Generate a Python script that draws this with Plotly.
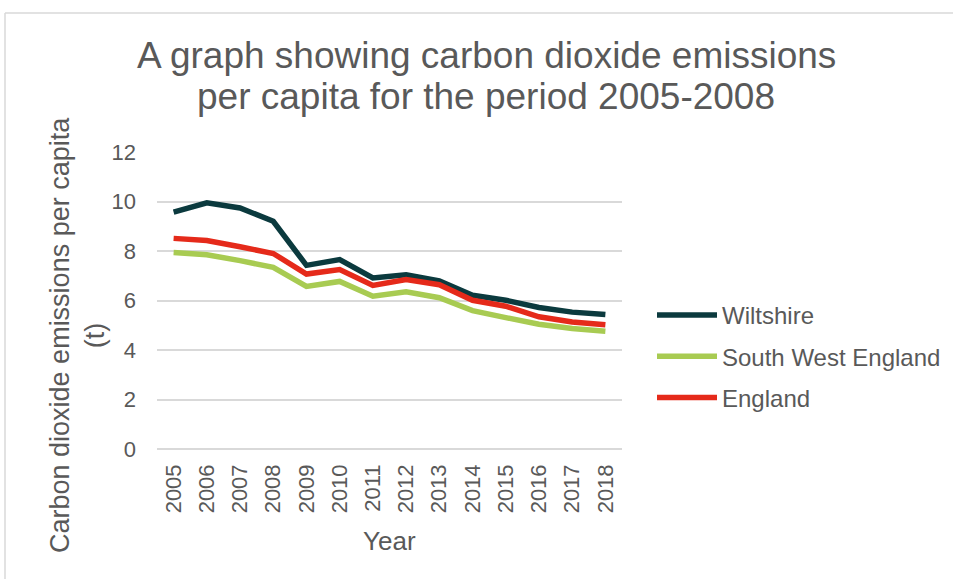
import plotly.graph_objects as go

# Emissions per capita (tonnes CO2), 2005-2018
years = ["2005", "2006", "2007", "2008", "2009", "2010", "2011",
         "2012", "2013", "2014", "2015", "2016", "2017", "2018"]
wiltshire = [9.57, 9.95, 9.74, 9.20, 7.42, 7.65, 6.91,
             7.04, 6.79, 6.21, 6.01, 5.72, 5.53, 5.43]
south_west = [7.94, 7.85, 7.61, 7.34, 6.57, 6.77, 6.17,
              6.35, 6.11, 5.59, 5.31, 5.04, 4.87, 4.76]
england = [8.51, 8.42, 8.17, 7.90, 7.07, 7.25, 6.61,
           6.85, 6.64, 6.01, 5.77, 5.34, 5.13, 5.02]

series_names = ["Wiltshire", "South West England", "England"]
series_values = [wiltshire, south_west, england]
series_colors = ["#0b3a3e", "#a8cb52", "#e52a1a"]

y_ticks = [0, 2, 4, 6, 8, 10, 12]

FONT = "Liberation Sans, Arial, sans-serif"
TEXT = "#595959"
GRID = "#d9d9d9"

# Plot-area placement in pixels (page is 953 x 579)
W, H = 953, 579
L, R, T, B = 157, 622, 152, 449


def px_x(x):
    return (x - L) / (R - L)


def px_y(y):
    return (B - y) / (B - T)


fig = go.Figure()
for name, vals, col in zip(series_names, series_values, series_colors):
    fig.add_trace(go.Scatter(
        x=years, y=vals, name=name, mode="lines", legendgroup=name,
        line=dict(color=col, width=5.5),
    ))

fig.update_layout(
    width=W, height=H,
    margin=dict(l=L, r=W - R, t=T, b=H - B, pad=0, autoexpand=False),
    paper_bgcolor="white", plot_bgcolor="white",
    font=dict(family=FONT, color=TEXT),
    showlegend=True,
    legend=dict(
        x=px_x(652), y=px_y(293), xanchor="left", yanchor="top",
        font=dict(family=FONT, size=24, color=TEXT),
        itemwidth=60, tracegroupgap=7,
        bgcolor="rgba(0,0,0,0)",
    ),
    xaxis=dict(
        type="category", range=[-0.5, len(years) - 0.5],
        showgrid=False, showline=False, zeroline=False,
        tickangle=-90, ticks="", ticklabelstandoff=10,
        tickfont=dict(family=FONT, size=22, color=TEXT),
    ),
    yaxis=dict(
        range=[0, 12], tickvals=y_ticks,
        showgrid=True, gridcolor=GRID, gridwidth=1.5,
        zeroline=True, zerolinecolor=GRID, zerolinewidth=1.5,
        showline=False, ticks="", ticklabelstandoff=20,
        tickfont=dict(family=FONT, size=22, color=TEXT),
    ),
    annotations=[
        dict(text="A graph showing carbon dioxide emissions",
             x=px_x(486), y=px_y(55), xref="paper", yref="paper",
             xanchor="center", yanchor="middle", showarrow=False,
             font=dict(family=FONT, size=37, color=TEXT)),
        dict(text="per capita for the period 2005-2008",
             x=px_x(486), y=px_y(96), xref="paper", yref="paper",
             xanchor="center", yanchor="middle", showarrow=False,
             font=dict(family=FONT, size=37, color=TEXT)),
        dict(text="Carbon dioxide emissions per capita<br>(t)",
             x=px_x(77), y=px_y(335), xref="paper", yref="paper",
             xanchor="center", yanchor="middle", showarrow=False,
             textangle=-90,
             font=dict(family=FONT, size=27, color=TEXT)),
        dict(text="Year",
             x=0.5, y=px_y(541), xref="paper", yref="paper",
             xanchor="center", yanchor="middle", showarrow=False,
             font=dict(family=FONT, size=26, color=TEXT)),
    ],
    shapes=[
        # chart-area frame (top and left edges)
        dict(type="line", xref="paper", yref="paper",
             x0=px_x(5), x1=px_x(W + 5), y0=px_y(13), y1=px_y(13),
             line=dict(color=GRID, width=1.5)),
        dict(type="line", xref="paper", yref="paper",
             x0=px_x(5), x1=px_x(5), y0=px_y(13), y1=px_y(H + 5),
             line=dict(color=GRID, width=1.5)),
    ],
)

fig.write_html("out.html")
